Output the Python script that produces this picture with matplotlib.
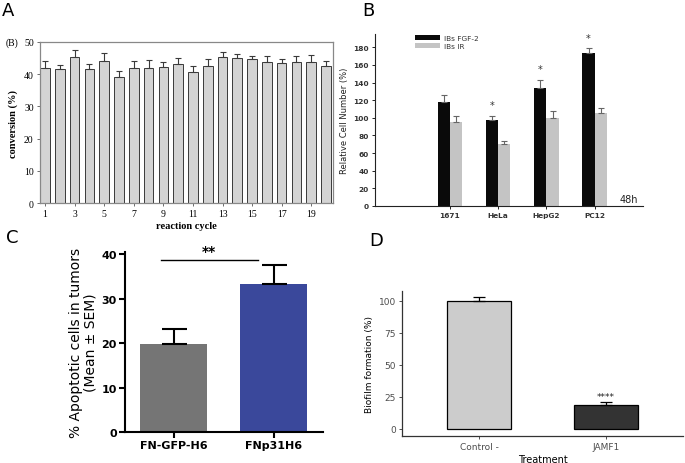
import matplotlib
matplotlib.use('Agg')
import matplotlib.pyplot as plt
import numpy as np

# ---------------- Panel A data ----------------
cycles = list(range(1, 21))
conv = [41.9, 41.5, 45.2, 41.5, 44.2, 39.0, 41.9, 42.0, 42.1, 43.2,
        40.6, 42.4, 45.2, 45.1, 44.8, 43.7, 43.4, 43.7, 43.7, 42.4]
conv_err = [2.2, 1.3, 2.3, 1.7, 2.4, 1.9, 2.3, 2.3, 1.7, 1.8,
            1.8, 2.2, 1.7, 1.2, 1.0, 1.8, 1.2, 2.0, 2.3, 1.8]
a_ticks = [1, 3, 5, 7, 9, 11, 13, 15, 17, 19]

# ---------------- Panel B data ----------------
cell_lines = ['1671', 'HeLa', 'HepG2', 'PC12']
fgf2 = [117.7, 97.0, 134.3, 173.6]
fgf2_err = [8.3, 5.3, 8.7, 5.6]
ir = [95.5, 70.2, 99.6, 106.0]
ir_err = [6.4, 3.8, 7.6, 4.6]
b_star_y = [None, 115, 155, 190]

# ---------------- Panel C data ----------------
c_groups = ['FN-GFP-H6', 'FNp31H6']
apopt = [19.9, 33.4]
apopt_err = [3.2, 4.1]

# ---------------- Panel D data ----------------
d_groups = ['Control -', 'JAMF1']
biofilm = [100.0, 18.4]
biofilm_err = [3.1, 2.4]

W, H = 685, 464
fig = plt.figure(figsize=(W / 100, H / 100), dpi=100)
fig.patch.set_facecolor('white')


def rect(l, t, r, b):
    return [l / W, 1 - b / H, (r - l) / W, (b - t) / H]

# Panel letters
for lab, x, y in [('A', 2, 11), ('B', 362, 11), ('C', 6, 238), ('D', 369, 241)]:
    fig.text(x / W, 1 - y / H, lab, fontsize=13, family='DejaVu Sans', va='center', ha='left')

# ---------------- Panel A ----------------
serif = 'Liberation Serif'
axA = fig.add_axes(rect(40, 43, 333, 204))
axA.bar(cycles, conv, width=0.65, color='#d4d4d4', edgecolor='#3a3a3a', linewidth=0.7,
        yerr=[[0] * len(conv_err), conv_err], error_kw=dict(ecolor='#3a3a3a', elinewidth=0.8, capsize=2.5, capthick=0.8))
axA.set_xlim(0.66, 20.47)
axA.set_ylim(0, 50)
axA.set_yticks([0, 10, 20, 30, 40, 50])
axA.set_xticks(a_ticks)
for s in axA.spines.values():
    s.set_color('#888888')
    s.set_linewidth(0.9)
axA.tick_params(labelsize=7, length=2.5, width=0.6, color='#555555', pad=2)
for t in axA.get_xticklabels() + axA.get_yticklabels():
    t.set_family(serif)
axA.set_xlabel('reaction cycle', fontsize=7.5, fontweight='bold', family=serif, labelpad=2)
axA.set_ylabel('conversion (%)', fontsize=7.5, fontweight='bold', family=serif, labelpad=4)
axA.text(-0.116, 1.0, '(B)', transform=axA.transAxes, fontsize=7, family=serif, ha='left', va='center')

# ---------------- Panel B ----------------
axB = fig.add_axes(rect(375, 35, 643, 207))
xb = np.arange(len(cell_lines))
bw = 0.255
ekw = dict(ecolor='#666666', elinewidth=0.8, capsize=2.5, capthick=0.8)
axB.bar(xb - bw / 2, fgf2, width=bw, color='#0a0a0a', label='IBs FGF-2',
        yerr=[[0] * 4, fgf2_err], error_kw=ekw)
axB.bar(xb + bw / 2, ir, width=bw, color='#c4c4c4', label='IBs IR',
        yerr=[[0] * 4, ir_err], error_kw=ekw)
for i, sy in enumerate(b_star_y):
    if sy is not None:
        axB.text(xb[i] - bw / 2, sy, '*', ha='center', va='center', fontsize=7, color='#333333')
axB.set_xlim(-1.55, 4.0)
axB.set_ylim(0, 195)
axB.set_yticks(np.arange(0, 181, 20))
axB.set_xticks(xb)
axB.set_xticklabels(cell_lines)
axB.spines['top'].set_visible(False)
axB.spines['right'].set_visible(False)
for s in ['left', 'bottom']:
    axB.spines[s].set_linewidth(0.8)
    axB.spines[s].set_color('#222222')
axB.tick_params(labelsize=5.3, length=2.5, width=0.6, pad=2)
for t in axB.get_xticklabels() + axB.get_yticklabels():
    t.set_fontweight('bold')
    t.set_color('#333333')
axB.set_ylabel('Relative Cell Number (%)', fontsize=6, labelpad=3, color='#222222')
leg = axB.legend(loc='upper left', bbox_to_anchor=(0.125, 1.035), frameon=False, fontsize=5.3,
                 handlelength=3.4, handleheight=0.8, labelspacing=0.25, handletextpad=0.5)
for t in leg.get_texts():
    t.set_color('#333333')
axB.text(3.7, 8, '48h', fontsize=7, ha='center', va='center', color='#222222')

# ---------------- Panel C ----------------
axC = fig.add_axes(rect(125, 253, 323, 433))
xc = np.arange(len(c_groups))
axC.bar(xc, apopt, width=0.67, color=['#757575', '#3a489b'],
        yerr=[[0, 0], apopt_err], error_kw=dict(ecolor='black', elinewidth=1.5, capsize=9, capthick=1.5))
axC.set_xlim(-0.485, 1.495)
axC.set_ylim(0, 40.5)
axC.set_yticks([0, 10, 20, 30, 40])
axC.set_xticks(xc)
axC.set_xticklabels(c_groups)
axC.spines['top'].set_visible(False)
axC.spines['right'].set_visible(False)
for s in ['left', 'bottom']:
    axC.spines[s].set_linewidth(1.5)
axC.tick_params(labelsize=8, length=4, width=1.5, pad=2)
for t in axC.get_xticklabels() + axC.get_yticklabels():
    t.set_fontweight('bold')
axC.set_ylabel('% Apoptotic cells in tumors\n(Mean \u00b1 SEM)', fontsize=10, labelpad=3, linespacing=1.0)
axC.plot([-0.13, 0.84], [38.6, 38.6], color='black', lw=1.0, clip_on=False)
axC.text(0.355, 40.8, '**', ha='center', va='center', fontsize=10, fontweight='bold', clip_on=False)

# ---------------- Panel D ----------------
axD = fig.add_axes(rect(402, 292, 683, 437))
xd = np.arange(len(d_groups))
axD.bar(xd, biofilm, width=0.5, color=['#cccccc', '#333333'], edgecolor='black', linewidth=0.9,
        yerr=[[0, 0], biofilm_err], error_kw=dict(ecolor='black', elinewidth=0.9, capsize=4, capthick=0.9))
axD.text(1, 25, '****', ha='center', va='center', fontsize=6.5, color='#222222')
axD.set_xlim(-0.606, 1.606)
axD.set_ylim(-5.5, 107.8)
axD.set_yticks([0, 25, 50, 75, 100])
axD.set_xticks(xd)
axD.set_xticklabels(d_groups)
axD.spines['top'].set_visible(False)
axD.spines['right'].set_visible(False)
for s in ['left', 'bottom']:
    axD.spines[s].set_linewidth(0.9)
    axD.spines[s].set_color('#333333')
axD.tick_params(labelsize=6.5, length=2.5, width=0.6, pad=2, labelcolor='#4d4d4d', color='#333333')
axD.set_xlabel('Treatment', fontsize=7, labelpad=2)
axD.set_ylabel('Biofilm formation (%)', fontsize=6.5, labelpad=3)

fig.savefig('out.png', dpi=100)
